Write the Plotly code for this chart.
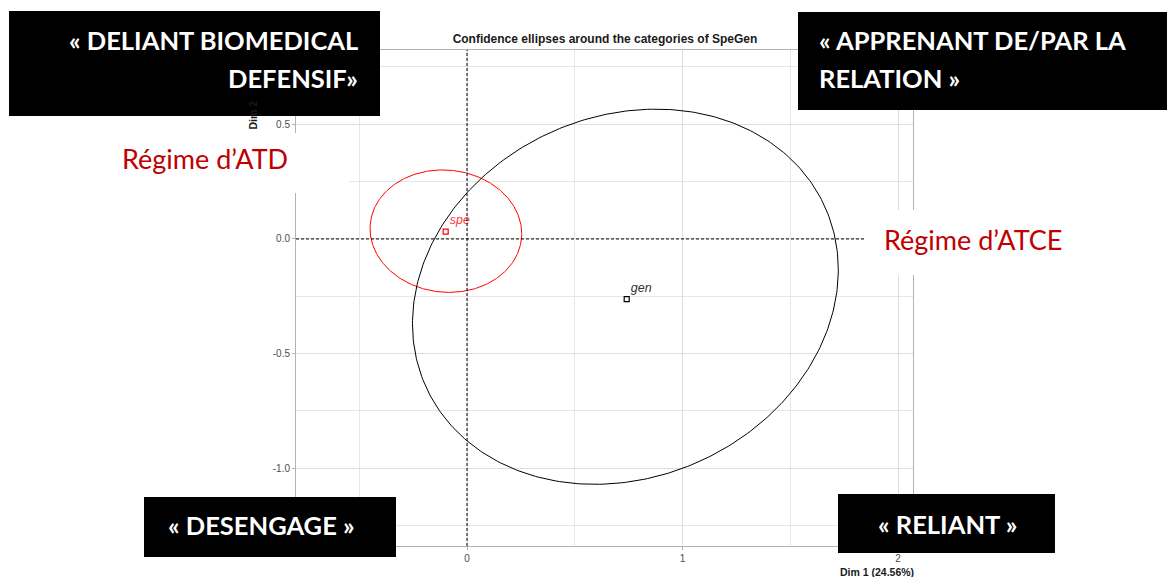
import numpy as np
import plotly.graph_objects as go

W, H = 1167, 577

# ---------------- data ----------------
categories = ["spe", "gen"]
point_x = [-0.099, 0.741]
point_y = [0.032, -0.262]
ellipse_cx = [-0.098, 0.735]
ellipse_cy = [0.034, -0.252]
ellipse_sx = [0.352, 0.988]     # half extent along Dim 1
ellipse_sy = [0.267, 0.818]     # half extent along Dim 2
ellipse_cov = [-0.004, 0.116]   # cross term

x_tickvals = [0, 1, 2]
x_ticktext = ["0", "1", "2"]
y_tickvals = [0.5, 0.0, -0.5, -1.0]
y_ticktext = ["0.5", "0.0", "-0.5", "-1.0"]
x_minor = [-0.5, 0.5, 1.5]
y_minor = [0.75, 0.25, -0.25, -0.75, -1.25]

title_text = "Confidence ellipses around the categories of SpeGen"
x_title = "Dim 1 (24.56%)"
y_title = "Dim 2"

box_top_left = ["« DELIANT BIOMEDICAL", "DEFENSIF»"]
box_top_right = ["« APPRENANT DE/PAR LA", "RELATION »"]
box_bottom_left = ["« DESENGAGE »"]
box_bottom_right = ["« RELIANT »"]
regime_left = "Régime d’ATD"
regime_right = "Régime d’ATCE"

# ---------------- style ----------------
cat_colors = ["#FF0000", "#000000"]
label_colors = ["#FF3B3B", "#333333"]
PL, PR, PT, PB = 296, 913, 50, 546


def pxx(v):
    return (v - PL) / (PR - PL)


def pxy(v):
    return (PB - v) / (PB - PT)


fig = go.Figure()

t = np.linspace(0, 2 * np.pi, 361)
for i, c in enumerate(categories):
    l11 = ellipse_sx[i]
    l21 = ellipse_cov[i] / l11
    l22 = np.sqrt(ellipse_sy[i] ** 2 - l21 ** 2)
    ex = ellipse_cx[i] + l11 * np.cos(t)
    ey = ellipse_cy[i] + l21 * np.cos(t) + l22 * np.sin(t)
    fig.add_trace(go.Scatter(x=ex, y=ey, mode="lines",
                             line=dict(color=cat_colors[i], width=1),
                             hoverinfo="skip", showlegend=False))

for i, c in enumerate(categories):
    fig.add_trace(go.Scatter(
        x=[point_x[i]], y=[point_y[i]], mode="markers+text",
        marker=dict(symbol="square-open", size=5, color=cat_colors[i],
                    line=dict(width=1.2, color=cat_colors[i])),
        text=["<i>" + c + "</i>"], textposition="top right",
        textfont=dict(family="Liberation Sans", size=12.5, color=label_colors[i]),
        showlegend=False))

shapes = []
# dashed reference lines at 0
shapes.append(dict(type="line", xref="paper", yref="y", x0=0, x1=1, y0=0, y1=0,
                   line=dict(color="black", width=1, dash="3px,2px"), layer="above"))
shapes.append(dict(type="line", xref="x", yref="paper", x0=0, x1=0, y0=0, y1=1,
                   line=dict(color="black", width=1, dash="3px,2px"), layer="above"))
# white boxes behind red labels
shapes.append(dict(type="rect", xref="paper", yref="paper",
                   x0=pxx(100), x1=pxx(349), y0=pxy(193), y1=pxy(133),
                   fillcolor="white", line=dict(width=0), layer="above"))
shapes.append(dict(type="rect", xref="paper", yref="paper",
                   x0=pxx(864), x1=pxx(1080), y0=pxy(275), y1=pxy(210),
                   fillcolor="white", line=dict(width=0), layer="above"))
# black boxes
for (x0, x1, y0, y1) in [(9, 380, 11, 116), (798, 1167, 12, 110),
                         (144, 396, 497, 557), (838, 1055, 494, 553)]:
    shapes.append(dict(type="rect", xref="paper", yref="paper",
                       x0=pxx(x0), x1=pxx(x1), y0=pxy(y1), y1=pxy(y0),
                       fillcolor="black", line=dict(width=0), layer="above"))

BOXFONT = dict(family="Lato", size=25.5, color="white")
ann = []
ann.append(dict(text="<b>" + box_top_left[0] + "</b>", x=pxx(360), y=pxy(40),
                xanchor="right", yanchor="middle"))
ann.append(dict(text="<b>" + box_top_left[1] + "</b>", x=pxx(360), y=pxy(78),
                xanchor="right", yanchor="middle"))
ann.append(dict(text="<b>" + box_top_right[0] + "</b>", x=pxx(817), y=pxy(40),
                xanchor="left", yanchor="middle"))
ann.append(dict(text="<b>" + box_top_right[1] + "</b>", x=pxx(817), y=pxy(78),
                xanchor="left", yanchor="middle"))
ann.append(dict(text="<b>" + box_bottom_left[0] + "</b>", x=pxx(261), y=pxy(525),
                xanchor="center", yanchor="middle"))
ann.append(dict(text="<b>" + box_bottom_right[0] + "</b>", x=pxx(947), y=pxy(524),
                xanchor="center", yanchor="middle"))
for a in ann:
    a.update(xref="paper", yref="paper", showarrow=False, font=BOXFONT)

REDFONT = dict(family="Lato", size=27, color="#C00000")
ann.append(dict(text=regime_left, x=pxx(120), y=pxy(158), xref="paper", yref="paper",
                xanchor="left", yanchor="middle", showarrow=False, font=REDFONT))
ann.append(dict(text=regime_right, x=pxx(882), y=pxy(239), xref="paper", yref="paper",
                xanchor="left", yanchor="middle", showarrow=False, font=REDFONT))
# axis titles
ann.append(dict(text="<b>" + x_title + "</b>", x=pxx(916), y=pxy(572), xref="paper",
                yref="paper", xanchor="right", yanchor="middle", showarrow=False,
                font=dict(family="Liberation Sans", size=10.5, color="#1A1A1A")))
ann.append(dict(text="<b>" + y_title + "</b>", x=pxx(252), y=pxy(132), xref="paper",
                yref="paper", xanchor="center", yanchor="bottom", textangle=-90,
                showarrow=False,
                font=dict(family="Liberation Sans", size=10.5, color="#1A1A1A")))

axis_common = dict(showline=True, linecolor="#B3B3B3", linewidth=1, mirror=True,
                   ticks="outside", ticklen=3, tickcolor="#B3B3B3",
                   showgrid=True, gridcolor="#DEDEDE", gridwidth=1,
                   zeroline=False,
                   tickfont=dict(family="Liberation Sans", size=10, color="#4D4D4D"))

fig.update_layout(
    width=W, height=H, autosize=False,
    margin=dict(l=PL, r=W - PR, t=PT, b=H - PB),
    paper_bgcolor="white", plot_bgcolor="white",
    title=dict(text="<b>" + title_text + "</b>", x=pxx(605), xref="paper",
               xanchor="center", y=1 - 39 / H, yref="container", yanchor="middle",
               font=dict(family="Liberation Sans", size=12, color="#1A1A1A")),
    xaxis=dict(range=[-0.7935, 2.0696], tickmode="array", tickvals=x_tickvals,
               ticktext=x_ticktext,
               minor=dict(tickmode="array", tickvals=x_minor, showgrid=True,
                          gridcolor="#E6E6E6", ticks=""),
               **axis_common),
    yaxis=dict(range=[-1.339, 0.824], tickmode="array", tickvals=y_tickvals,
               ticktext=y_ticktext,
               minor=dict(tickmode="array", tickvals=y_minor,
                          showgrid=True, gridcolor="#E6E6E6", ticks=""),
               **axis_common),
    shapes=shapes, annotations=ann, showlegend=False,
)

fig.write_html("out.html", config={"displayModeBar": False},
               post_script="document.body.style.margin='0';")
